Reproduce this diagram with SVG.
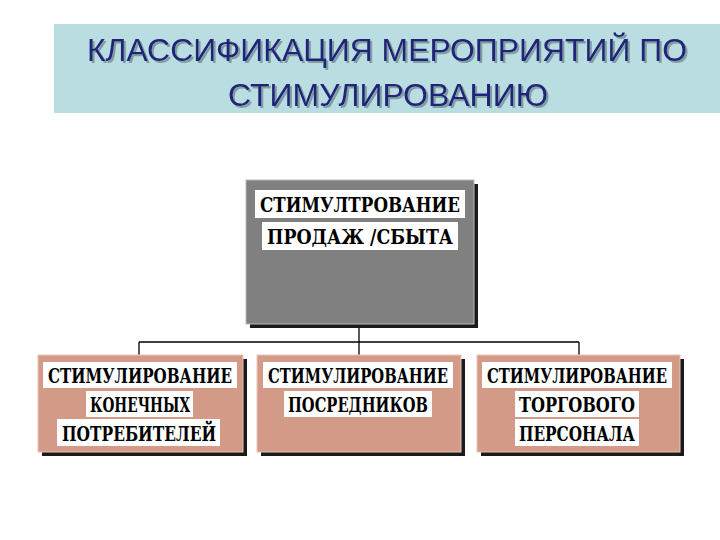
<svg xmlns="http://www.w3.org/2000/svg" width="720" height="540" viewBox="0 0 720 540">
<defs>
<filter id="ts" x="-5%" y="-20%" width="110%" height="140%">
<feDropShadow dx="2" dy="2" stdDeviation="0.6" flood-color="#7f9ea2" flood-opacity="1"/>
</filter>
</defs>
<style>
.title{font-family:"Liberation Sans",Arial,sans-serif;font-size:32px;fill:#22237a;text-anchor:middle;filter:url(#ts)}
.lbl{font-family:"DejaVu Serif","Liberation Serif",serif;font-weight:bold;font-size:20px;fill:#000;text-anchor:middle}
.hl{fill:#fff}
.shadow{fill:#1a1a1a}
.gray{fill:#808080;stroke:#bbb;stroke-width:1}
.salmon{fill:#d49a88;stroke:#e8c5b8;stroke-width:1}
.conn{fill:none;stroke:#000;stroke-width:1.3}
</style>
<rect width="720" height="540" fill="#fff"/>
<g id="title">
<rect x="54" y="24" width="666" height="89" fill="#b9dde0"/>
<text class="title" x="387" y="61" textLength="600" lengthAdjust="spacingAndGlyphs">КЛАССИФИКАЦИЯ МЕРОПРИЯТИЙ ПО</text>
<text class="title" x="388" y="106" textLength="320" lengthAdjust="spacingAndGlyphs">СТИМУЛИРОВАНИЮ</text>
</g>
<g id="connectors">
<path class="conn" d="M359 324 V342 M139 342 H579 M139 342 V355 M359 342 V355 M579 342 V355"/>
</g>
<g id="top">
<rect class="shadow" x="250" y="184" width="228" height="144"/>
<rect class="gray" x="246" y="180" width="228" height="144"/>
<rect class="hl" x="255" y="190" width="210" height="28"/>
<rect class="hl" x="262" y="222" width="196" height="28"/>
<text class="lbl" x="360" y="212" textLength="200" lengthAdjust="spacingAndGlyphs">СТИМУЛТРОВАНИЕ</text>
<text class="lbl" x="360" y="244" textLength="186" lengthAdjust="spacingAndGlyphs">ПРОДАЖ /СБЫТА</text>
</g>
<g id="b1">
<rect class="shadow" x="42" y="359" width="205" height="97"/>
<rect class="salmon" x="38" y="355" width="205" height="97"/>
<rect class="hl" x="43" y="362" width="194" height="26"/>
<rect class="hl" x="86" y="391" width="107" height="26"/>
<rect class="hl" x="57" y="419" width="163" height="27"/>
<text class="lbl" x="140" y="383" textLength="184" lengthAdjust="spacingAndGlyphs">СТИМУЛИРОВАНИЕ</text>
<text class="lbl" x="140" y="412" textLength="100" lengthAdjust="spacingAndGlyphs">КОНЕЧНЫХ</text>
<text class="lbl" x="139" y="441" textLength="154" lengthAdjust="spacingAndGlyphs">ПОТРЕБИТЕЛЕЙ</text>
</g>
<g id="b2">
<rect class="shadow" x="261" y="359" width="204" height="97"/>
<rect class="salmon" x="257" y="355" width="204" height="97"/>
<rect class="hl" x="263" y="362" width="190" height="26"/>
<rect class="hl" x="284" y="391" width="148" height="26"/>
<text class="lbl" x="358" y="383" textLength="180" lengthAdjust="spacingAndGlyphs">СТИМУЛИРОВАНИЕ</text>
<text class="lbl" x="358" y="412" textLength="140" lengthAdjust="spacingAndGlyphs">ПОСРЕДНИКОВ</text>
</g>
<g id="b3">
<rect class="shadow" x="481" y="359" width="203" height="97"/>
<rect class="salmon" x="477" y="355" width="203" height="97"/>
<rect class="hl" x="482" y="362" width="190" height="26"/>
<rect class="hl" x="515" y="391" width="124" height="26"/>
<rect class="hl" x="515" y="419" width="124" height="27"/>
<text class="lbl" x="577" y="383" textLength="180" lengthAdjust="spacingAndGlyphs">СТИМУЛИРОВАНИЕ</text>
<text class="lbl" x="577" y="412" textLength="116" lengthAdjust="spacingAndGlyphs">ТОРГОВОГО</text>
<text class="lbl" x="577" y="441" textLength="116" lengthAdjust="spacingAndGlyphs">ПЕРСОНАЛА</text>
</g>
</svg>
